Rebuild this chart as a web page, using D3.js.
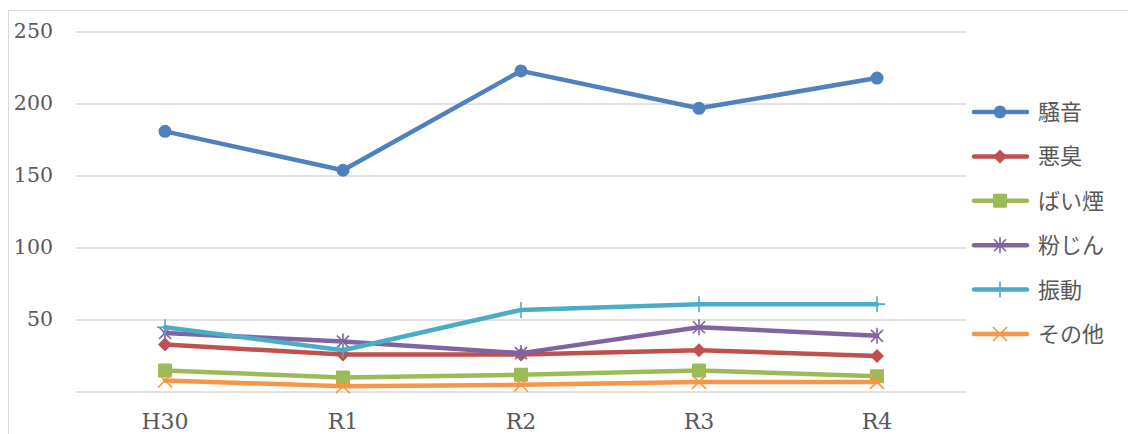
<!DOCTYPE html>
<html>
<head>
<meta charset="utf-8">
<script src="https://cdn.jsdelivr.net/npm/d3@7"></script>
<style>
body{margin:0;background:#fff;}
</style>
</head>
<body>
<div id="main_div"></div>
<script>
let years=["H30","R1","R2","R3","R4"];
let seriesNames=["騒音","悪臭","ばい煙","粉じん","振動","その他"];
let noise=[181,154,223,197,218];
let odor=[33,26,26,29,25];
let smoke=[15,10,12,15,11];
let dust=[41,35,27,45,39];
let vibration=[45,29,57,61,61];
let other=[8,4,5,7,7];
let yTicks=[50,100,150,200,250];

let allValues=[noise,odor,smoke,dust,vibration,other];
let colors=["#4F81BD","#C0504D","#9BBB59","#8064A2","#4BACC6","#F79646"];
let markers=["circle","diamond","square","star","plus","cross"];
let size=[1128,434];
let xScale,yScale;

render();

function render(){
    let svg=d3.select("#main_div")
        .append("svg")
        .attr("width",size[0])
        .attr("height",size[1])
        .attr("id","main_svg");

    /**chart border */
    svg.append("rect")
        .attr("x",8.5).attr("y",10.5)
        .attr("width",1130).attr("height",440)
        .attr("fill","none").attr("stroke","#d9d9d9");

    xScale=d3.scaleBand().domain(years).range([76,966]);
    yScale=d3.scaleLinear().domain([0,250]).range([392,32]);

    /**gridlines */
    svg.append("g").selectAll("line")
        .data([0].concat(yTicks))
        .enter().append("line")
        .attr("x1",76).attr("x2",966)
        .attr("y1",d=>yScale(d)).attr("y2",d=>yScale(d))
        .attr("stroke","#d9d9d9").attr("stroke-width",1.3);

    /**y axis */
    let yAxis=d3.axisLeft(yScale).tickValues(yTicks).tickSize(0).tickPadding(0);
    let yg=svg.append("g").attr("transform","translate(53,-1)").call(yAxis);
    yg.select(".domain").remove();
    yg.selectAll("text")
        .attr("fill","#595959")
        .style("font-family","'DejaVu Serif'")
        .style("font-size","20.5px");

    /**x axis */
    let xAxis=d3.axisBottom(xScale).tickSize(0).tickPadding(0);
    let xg=svg.append("g").attr("transform","translate(0,413)").call(xAxis);
    xg.select(".domain").remove();
    xg.selectAll("text")
        .attr("fill","#595959")
        .style("font-family","'DejaVu Serif'")
        .style("font-size","22px");

    let line=d3.line()
        .x((d,i)=>xScale(years[i])+xScale.bandwidth()/2)
        .y(d=>yScale(d));

    allValues.forEach(function(vals,k){
        let g=svg.append("g");
        g.append("path")
            .attr("d",line(vals))
            .attr("fill","none")
            .attr("stroke",colors[k])
            .attr("stroke-width",4.5)
            .attr("stroke-linejoin","round")
            .attr("stroke-linecap","round");
        g.selectAll(".m")
            .data(vals)
            .enter().append("g")
            .attr("transform",(d,i)=>"translate("+(xScale(years[i])+xScale.bandwidth()/2)+","+yScale(d)+")")
            .each(function(){ drawMarker(d3.select(this),markers[k],colors[k]); });
    });

    /**legend */
    let lg=svg.append("g");
    seriesNames.forEach(function(name,k){
        let y=112+k*44.4;
        let item=lg.append("g").attr("transform","translate(0,"+y+")");
        item.append("line")
            .attr("x1",974).attr("x2",1027)
            .attr("stroke",colors[k]).attr("stroke-width",4.5)
            .attr("stroke-linecap","round");
        let m=item.append("g").attr("transform","translate(1000,0)");
        drawMarker(m,markers[k],colors[k]);
        item.append("text")
            .attr("x",1038).attr("y",8)
            .text(name)
            .attr("fill","#595959")
            .style("font-family","'Noto Sans CJK JP'")
            .style("font-size","22px");
    });
}

function drawMarker(g,type,color){
    if(type=="circle"){
        g.append("circle").attr("r",6.5).attr("fill",color);
    }else if(type=="diamond"){
        g.append("path").attr("d","M0,-7L7,0L0,7L-7,0Z").attr("fill",color);
    }else if(type=="square"){
        g.append("rect").attr("x",-7).attr("y",-7).attr("width",14).attr("height",14).attr("rx",1).attr("fill",color);
    }else if(type=="star"){
        g.append("path").attr("d","M-6,-6L6,6M-6,6L6,-6M0,-8L0,8")
            .attr("stroke",color).attr("stroke-width",1.6).attr("fill","none");
    }else if(type=="plus"){
        g.append("path").attr("d","M0,-8L0,8M-8,0L8,0")
            .attr("stroke",color).attr("stroke-width",1.6).attr("fill","none");
    }else if(type=="cross"){
        g.append("path").attr("d","M-7,-7L7,7M-7,7L7,-7")
            .attr("stroke",color).attr("stroke-width",1.6).attr("fill","none");
    }
}
</script>
</body>
</html>
